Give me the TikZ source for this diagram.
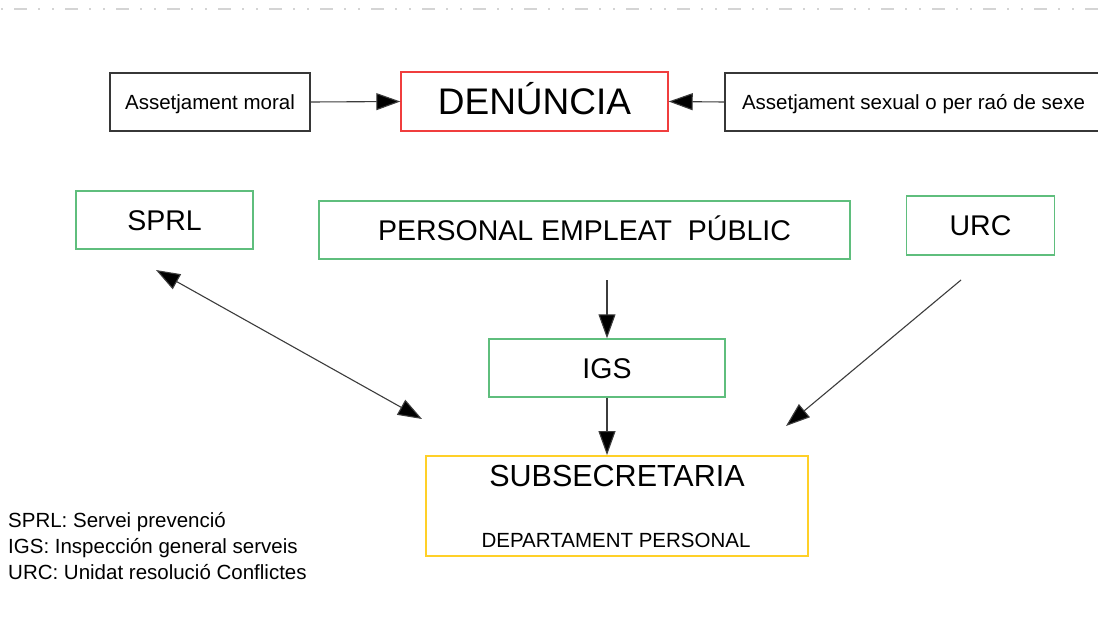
\documentclass[tikz,border=0pt]{standalone}
\usepackage{fontspec}
\setmainfont{Liberation Sans}
\usetikzlibrary{arrows.meta,calc}
\definecolor{boxred}{RGB}{240,62,62}
\definecolor{boxgreen}{RGB}{95,190,125}
\definecolor{boxyellow}{RGB}{255,208,40}
\definecolor{boxblack}{RGB}{55,55,55}
\definecolor{arrowgray}{RGB}{60,60,60}
\definecolor{dashgray}{RGB}{212,212,212}
\begin{document}
\begin{tikzpicture}[x=1pt,y=-1pt,
  box/.style={draw, line width=1.4pt, inner sep=0pt, text depth=0pt, text=black},
  small/.style={font=\fontsize{20.5}{24}\selectfont, text height=14.7pt},
  medium/.style={font=\fontsize{28.5}{32}\selectfont, text height=20.4pt},
  large/.style={font=\fontsize{37}{40}\selectfont, text height=26.5pt},
  tip/.tip={Triangle[length=24pt,width=17pt,fill=black]},
  conn/.style={draw=arrowgray, line width=1.1pt, -tip},
  dconn/.style={draw=arrowgray, line width=1.1pt, tip-tip},
  legend/.style={anchor=base west, inner sep=0pt, font=\fontsize{20.5}{24}\selectfont}
]
\useasboundingbox (0,0) rectangle (1098,621);
\fill[white] (0,0) rectangle (1098,621);
% top dashed line
\draw[dashgray, line width=1.5pt, dash pattern=on 13pt off 11pt on 2pt off 12pt on 2pt off 11pt] (-37,9) -- (1098,9);

% top row
\node[box, small, draw=boxblack, minimum width=200pt, minimum height=58pt] (moral) at (210,102) {Assetjament moral};
\node[box, large, draw=boxred, minimum width=267pt, minimum height=59pt] (den) at (534.5,101.5) {DENÚNCIA};
\node[box, small, draw=boxblack, minimum width=377pt, minimum height=58pt] (sex) at (913.5,102) {Assetjament sexual o per raó de sexe};

% second row
\node[box, medium, draw=boxgreen, minimum width=177pt, minimum height=58pt] (sprl) at (164.5,220) {SPRL};
\node[box, medium, draw=boxgreen, minimum width=531pt, minimum height=58pt] (pep) at (584.5,230) {PERSONAL EMPLEAT\ \ PÚBLIC};
\node[box, medium, draw=boxgreen, minimum width=148pt, minimum height=59pt] (urc) at (980.5,225.5) {URC};

% IGS
\node[box, medium, draw=boxgreen, minimum width=236pt, minimum height=58pt] (igs) at (607,368) {IGS};

% Subsecretaria
\node[draw=boxyellow, line width=1.8pt, inner sep=0pt, minimum width=382pt, minimum height=100pt] (sub) at (617,506) {};
\node[inner sep=0pt, text height=21.8pt, text depth=0pt, font=\fontsize{30.5}{34}\selectfont] (subt) at ($(sub.north)+(0,20)$) {SUBSECRETARIA};
\node[inner sep=0pt, text depth=0pt, small] (subd) at ($(sub.north)+(-1,85)$) {DEPARTAMENT PERSONAL};

% free ends
\coordinate (p1) at (607,280);
\coordinate (s1) at (156,270);
\coordinate (s2) at (422,419);
\coordinate (u1) at (961,280);
\coordinate (u2) at (786,426);

% connectors
\draw[conn] (moral.east) -- (den.west);
\draw[conn] (sex.west) -- (den.east);
\draw[conn] (p1) -- (igs.north);
\draw[conn] (igs.south) -- (igs.south |- sub.north);
\draw[dconn] (s1) -- (s2);
\draw[conn] (u1) -- (u2);

% legend
\node[legend] (leg1) at (8,527.7) {SPRL: Servei prevenció};
\node[legend] (leg2) at (8,553.3) {IGS: Inspección general serveis};
\node[legend] (leg3) at (8,579) {URC: Unidat resolució Conflictes};
\end{tikzpicture}
\end{document}
